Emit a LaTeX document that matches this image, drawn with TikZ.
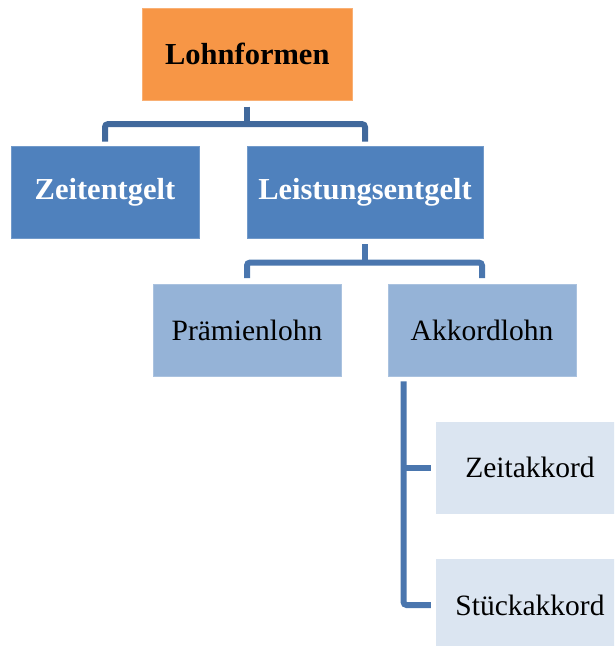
\documentclass[tikz,border=0pt]{standalone}
\usepackage{fontspec}
\setmainfont{Liberation Serif}
\usepackage{tikz}
\usetikzlibrary{positioning}
\usepackage{xcolor}
\definecolor{lohnorange}{HTML}{F79646}
\definecolor{accentblue}{HTML}{4F81BD}
\definecolor{midblue}{HTML}{95B3D7}
\definecolor{paleblue}{HTML}{DBE5F1}
\definecolor{linedark}{HTML}{41699C}
\definecolor{lineblue}{HTML}{4A76AE}

\begin{document}
\begin{tikzpicture}[
    x=1pt, y=-1pt,
    box/.style={rectangle, inner sep=0pt, align=center,
                minimum width=188pt, minimum height=92pt},
    topbox/.style={box, fill=lohnorange, draw=lohnorange!75!white, line width=0.8pt,
                   minimum width=210pt, font=\fontsize{30.5}{36}\selectfont\bfseries},
    levelone/.style={box, fill=accentblue, draw=accentblue!80!white, line width=0.8pt,
                     text=white, font=\fontsize{30.5}{36}\selectfont\bfseries},
    leveltwo/.style={box, fill=midblue, draw=midblue!80!white, line width=0.8pt,
                     font=\fontsize{29.5}{35}\selectfont},
    levelthree/.style={box, fill=paleblue, font=\fontsize{29.5}{35}\selectfont},
    conn/.style={line width=6pt, color=lineblue, rounded corners=3pt},
    conntop/.style={conn, color=linedark}
]
\clip (0,0) rectangle (614,646);
\node[topbox] (lohn) at (247.3, 54.2) {Lohnformen};
\node[levelone] (zeit) at (105, 192) {Zeitentgelt};
\node[levelone, minimum width=236pt] (leist) at (365, 192) {Leistungsentgelt};
\node[leveltwo] (praem) at (247, 330) {Prämienlohn};
\node[leveltwo] (akkord) at (482, 330) {Akkordlohn};
\node[levelthree] (zeitakk) at (530, 467.5) {Zeitakkord};
\node[levelthree] (stueck) at (530, 605) {Stückakkord};
% Lohnformen -> Zeitentgelt, Leistungsentgelt
\draw[conntop] ([yshift=-6pt]lohn.south) -- ++(0,19);
\draw[conntop] ([yshift=4pt]zeit.north) -- ++(0,-17.5) -| ([yshift=4pt]leist.north);
% Leistungsentgelt -> Praemienlohn, Akkordlohn
\draw[conn] ([yshift=-6pt]leist.south) -- ++(0,19);
\draw[conn] ([yshift=5.5pt]praem.north) -- ++(0,-15.5) -| ([yshift=5.5pt]akkord.north);
% Akkordlohn -> Zeitakkord, Stueckakkord
\draw[conn] ([xshift=16pt, yshift=-5pt]akkord.south west) |- ([xshift=-5pt]stueck.west);
\draw[conn] ([xshift=16pt]akkord.south west |- zeitakk.west) -- ([xshift=-5pt]zeitakk.west);
\end{tikzpicture}
\end{document}
